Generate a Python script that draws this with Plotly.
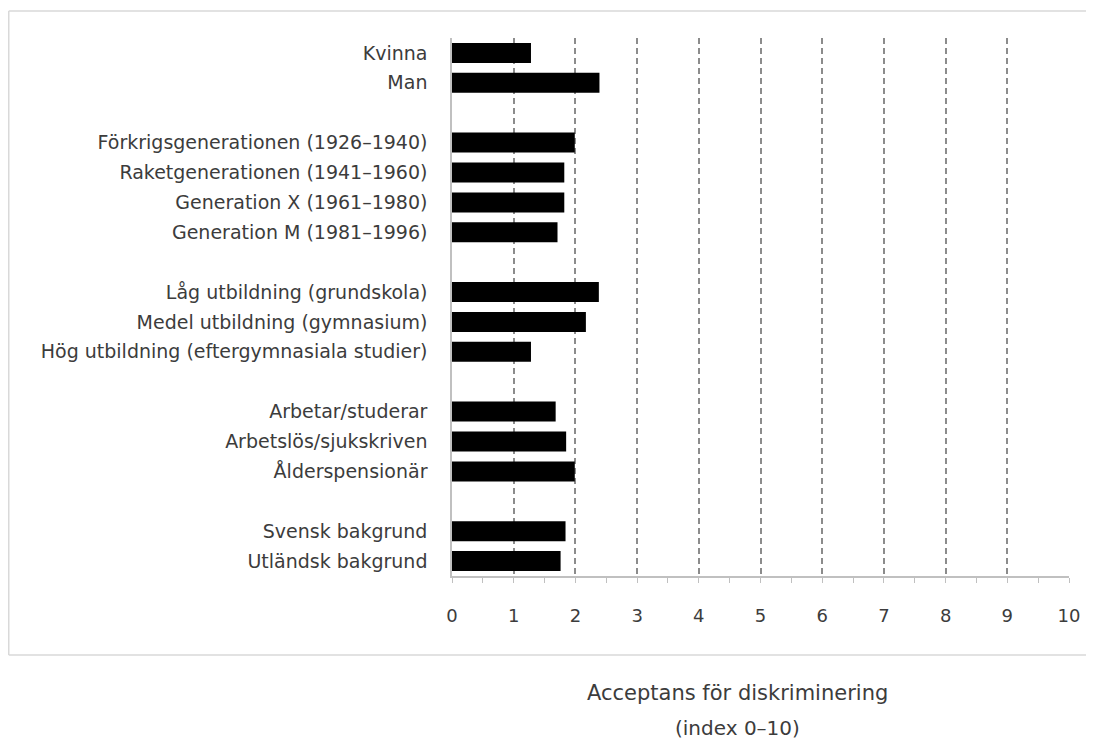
import plotly.graph_objects as go

# Groups separated by blank rows (unique whitespace labels keep the gaps)
categories = [
    "Kvinna", "Man", " ",
    "Förkrigsgenerationen (1926–1940)", "Raketgenerationen (1941–1960)",
    "Generation X (1961–1980)", "Generation M (1981–1996)", "  ",
    "Låg utbildning (grundskola)", "Medel utbildning (gymnasium)",
    "Hög utbildning (eftergymnasiala studier)", "   ",
    "Arbetar/studerar", "Arbetslös/sjukskriven", "Ålderspensionär", "    ",
    "Svensk bakgrund", "Utländsk bakgrund",
]
values = [
    1.28, 2.39, None,
    1.99, 1.82, 1.82, 1.71, None,
    2.38, 2.17, 1.28, None,
    1.68, 1.85, 1.99, None,
    1.84, 1.76,
]
x_ticks = list(range(0, 11))

font_family = "'DejaVu Sans', sans-serif"
text_color = "#3c3c3c"
frame_color = "#d9d9d9"

fig = go.Figure()

fig.add_trace(
    go.Bar(
        x=values,
        y=categories,
        orientation="h",
        width=0.67,
        marker={"color": "black", "line": {"width": 0}},
        showlegend=False,
        hoverinfo="x+y",
    )
)

fig.update_xaxes(
    range=[0, 10],
    tickvals=x_ticks,
    ticks="outside",
    ticklen=5,
    tickcolor="#c0c0c0",
    minor={"dtick": 0.5, "ticks": "outside", "ticklen": 5, "tickcolor": "#c0c0c0", "showgrid": False},
    showline=True,
    linecolor="#c0c0c0",
    linewidth=1.5,
    showgrid=True,
    gridcolor="#8c8c8c",
    griddash="6px,4px",
    gridwidth=1.5,
    zeroline=False,
    tickfont={"size": 18, "color": text_color},
    ticklabelstandoff=18,
)
fig.update_yaxes(
    categoryorder="array",
    categoryarray=categories,
    range=[17.5, -0.5],
    showline=True,
    linecolor="#c0c0c0",
    linewidth=1.5,
    ticks="",
    showgrid=False,
    tickfont={"size": 19, "color": text_color},
    ticklabelstandoff=19,
)

# axis title as two lines with wide spacing
fig.add_annotation(
    text="Acceptans för diskriminering",
    xref="paper", yref="paper",
    x=0.462, y=-0.2175,
    xanchor="center", yanchor="middle",
    showarrow=False,
    font={"size": 21, "color": text_color},
)
fig.add_annotation(
    text="(index 0–10)",
    xref="paper", yref="paper",
    x=0.462, y=-0.282,
    xanchor="center", yanchor="middle",
    showarrow=False,
    font={"size": 20, "color": text_color},
)

# outer chart frame: top, left and bottom edges (right edge runs off the page)
frame_left, frame_right = -0.7184, 1.3
frame_bottom, frame_top = -0.147, 1.050
for x0, x1, y0, y1 in [
    (frame_left, frame_right, frame_top, frame_top),
    (frame_left, frame_right, frame_bottom, frame_bottom),
    (frame_left, frame_left, frame_bottom, frame_top),
]:
    fig.add_shape(
        type="line",
        xref="paper", yref="paper",
        x0=x0, x1=x1, y0=y0, y1=y1,
        line={"color": frame_color, "width": 1.5},
        layer="below",
    )

# page body adds an 8px offset, so the figure is drawn slightly smaller
fig.update_layout(
    width=1086,
    height=732,
    margin={"l": 444, "r": 25, "t": 30, "b": 164},
    plot_bgcolor="white",
    paper_bgcolor="white",
    font={"family": font_family, "color": text_color},
)

fig.write_html("out.html")
